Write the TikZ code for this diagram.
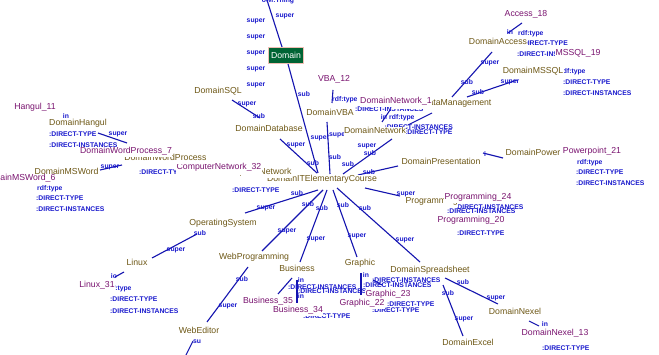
\documentclass[tikz,border=0pt]{standalone}
\usepackage{fontspec}
\setmainfont{Liberation Sans}
\definecolor{olive}{RGB}{110,88,22}
\definecolor{purp}{RGB}{122,20,112}
\definecolor{labblue}{RGB}{25,25,205}
\definecolor{lineblue}{RGB}{20,20,175}
\definecolor{domgreen}{RGB}{0,100,52}
\definecolor{dompink}{RGB}{240,190,180}
\tikzset{
  cls/.style={text=olive, fill=white, inner xsep=0.4pt, inner ysep=0.4pt, text height=6.8pt, text depth=2.8pt, font=\fontsize{8.7}{9}\selectfont},
  inst/.style={cls, text=purp},
  lab/.style={text=labblue, inner sep=0pt, text height=5pt, text depth=0.6pt, font=\fontsize{6.8}{7}\selectfont\bfseries},
  edge/.style={draw=lineblue, line width=1.1pt},
  dombox/.style={fill=domgreen, draw=dompink, line width=0.8pt, text=white, minimum width=35pt, minimum height=16pt, inner sep=1pt, font=\fontsize{8.7}{9}\selectfont}
}
\begin{document}
\begin{tikzpicture}[x=1pt,y=-1pt]
\useasboundingbox (0,0) rectangle (659,355);
\clip (0,0) rectangle (659,355);
\fill[white] (0,0) rectangle (659,355);
% ---------- edge end points ----------
\coordinate (d1) at (282,47); \coordinate (d0) at (266,-3);
\coordinate (d2) at (288,64); \coordinate (c0) at (318,173);
\coordinate (s1) at (232,100); \coordinate (s2) at (260,118);
\coordinate (b1) at (280,139); \coordinate (c1) at (317,173);
\coordinate (v1) at (327,122); \coordinate (c2) at (330,174);
\coordinate (n1) at (392,139); \coordinate (c3) at (343,174);
\coordinate (c4) at (358,175); \coordinate (p1) at (398,166);
\coordinate (c5) at (365,188); \coordinate (g1) at (400,196);
\coordinate (c6) at (318,190); \coordinate (o1) at (245,213);
\coordinate (c7) at (323,190); \coordinate (w1) at (262,251);
\coordinate (c8) at (327,190); \coordinate (bu1) at (300,262);
\coordinate (c9) at (333,190); \coordinate (gr1) at (357,257);
\coordinate (c10) at (337,188); \coordinate (sp1) at (420,262);
\coordinate (o2) at (197,234); \coordinate (l1) at (152,258);
\coordinate (w2) at (248,267); \coordinate (we1) at (207,322);
\coordinate (we2) at (193,341); \coordinate (we3) at (185,357);
\coordinate (sp2) at (445,278); \coordinate (nx1) at (498,304);
\coordinate (sp3) at (443,285); \coordinate (ex1) at (463,336);
\coordinate (nx2) at (529,321); \coordinate (nx3) at (539,326);
\coordinate (ac1) at (492,52); \coordinate (dm1) at (452,97);
\coordinate (ms1) at (517,80); \coordinate (dm2) at (467,97);
\coordinate (ac2) at (508,33); \coordinate (ac3) at (522,23);
\coordinate (pr1) at (483,153); \coordinate (pw1) at (503,158);
\coordinate (h1) at (98,133); \coordinate (h2) at (127,143);
\coordinate (m1) at (100,170); \coordinate (m2) at (122,165);
\coordinate (li1) at (115,277); \coordinate (li2) at (124,272);
\coordinate (vb1) at (333,90); \coordinate (vb2) at (332,103);
\coordinate (ne1) at (382,122); \coordinate (ne2) at (390,110);
\coordinate (ne3) at (408,125); \coordinate (ne4) at (432,113);
\coordinate (bi1) at (278,294); \coordinate (bi2) at (292,278);
\coordinate (bi3) at (297,280); \coordinate (bi4) at (297,303);
\coordinate (gi1) at (361,273); \coordinate (gi2) at (361,295);
\coordinate (gi3) at (373,280); \coordinate (gi4) at (382,285);
% ---------- edges ----------
\draw[edge] (d1) -- (d0);
\draw[edge] (d2) -- (c0);
\draw[edge] (s1) -- (s2);
\draw[edge] (b1) -- (c1);
\draw[edge] (v1) -- (c2);
\draw[edge] (n1) -- (c3);
\draw[edge] (c4) -- (p1);
\draw[edge] (c5) -- (g1);
\draw[edge] (c6) -- (o1);
\draw[edge] (c7) -- (w1);
\draw[edge] (c8) -- (bu1);
\draw[edge] (c9) -- (gr1);
\draw[edge] (c10) -- (sp1);
\draw[edge] (o2) -- (l1);
\draw[edge] (w2) -- (we1);
\draw[edge] (we2) -- (we3);
\draw[edge] (sp2) -- (nx1);
\draw[edge] (sp3) -- (ex1);
\draw[edge] (nx2) -- (nx3);
\draw[edge] (ac1) -- (dm1);
\draw[edge] (ms1) -- (dm2);
\draw[edge] (ac2) -- (ac3);
\draw[edge] (pr1) -- (pw1);
\draw[edge] (h1) -- (h2);
\draw[edge] (m1) -- (m2);
\draw[edge] (li1) -- (li2);
\draw[edge] (vb1) -- (vb2);
\draw[edge] (ne1) -- (ne2);
\draw[edge] (ne3) -- (ne4);
\draw[edge] (bi1) -- (bi2);
\draw[edge] (bi3) -- (bi4);
\draw[edge] (gi1) -- (gi2);
\draw[edge] (gi3) -- (gi4);
% ---------- small blue labels ----------
\node[lab] (t0) at (278,0) {owl:Thing};
\node[lab] (su1) at (256,20) {super};
\node[lab] (su2) at (256,36) {super};
\node[lab] (su3) at (256,52) {super};
\node[lab] (su4) at (256,68) {super};
\node[lab] (su5) at (256,84) {super};
\node[lab] (su6) at (285,15) {super};
\node[lab] (sb1) at (304,94) {sub};
\node[lab] (su7) at (247,103) {super};
\node[lab] (sb2) at (259,116) {sub};
\node[lab] (su8) at (296,144) {super};
\node[lab] (sb3) at (313,163) {sub};
\node[lab] (su9) at (320,137) {super};
\node[lab,anchor=west] (su10) at (329,134) {super};
\node[lab] (sb4) at (335,157) {sub};
\node[lab] (su11) at (367,145) {super};
\node[lab] (sb5) at (370,153) {sub};
\node[lab] (sb6) at (348,164) {sub};
\node[lab] (sb7) at (369,172) {sub};
\node[lab] (su12) at (406,193) {super};
\node[lab] (sb8) at (297,193) {sub};
\node[lab] (su13) at (266,207) {super};
\node[lab] (sb9) at (308,204) {sub};
\node[lab] (su14) at (287,230) {super};
\node[lab] (sb10) at (322,208) {sub};
\node[lab] (su15) at (316,238) {super};
\node[lab] (sb11) at (343,205) {sub};
\node[lab] (su16) at (357,235) {super};
\node[lab] (sb12) at (365,208) {sub};
\node[lab] (su17) at (405,239) {super};
\node[lab] (sb13) at (200,233) {sub};
\node[lab] (su18) at (176,249) {super};
\node[lab] (sb14) at (242,279) {sub};
\node[lab] (su19) at (228,305) {super};
\node[lab] (su20) at (197,341) {su};
\node[lab] (sb15) at (463,282) {sub};
\node[lab] (su21) at (496,297) {super};
\node[lab] (sb16) at (448,293) {sub};
\node[lab] (su22) at (464,318) {super};
\node[lab] (io1) at (545,324) {in};
\node[lab,anchor=west] (dt1) at (542,348) {:DIRECT-TYPE};
\node[lab] (su23) at (490,62) {super};
\node[lab] (sb17) at (467,82) {sub};
\node[lab] (su24) at (510,81) {super};
\node[lab] (sb18) at (478,92) {sub};
\node[lab] (io2) at (510,32) {in};
\node[lab,anchor=west] (rt1) at (518,33) {rdf:type};
\node[lab,anchor=east] (dt2) at (568,43) {:DIRECT-TYPE};
\node[lab,anchor=west] (di1) at (517,54) {:DIRECT-INSTANCES};
\node[lab,anchor=west] (rt2) at (560,71) {rdf:type};
\node[lab,anchor=west] (dt3) at (563,82) {:DIRECT-TYPE};
\node[lab,anchor=west] (di2) at (563,93) {:DIRECT-INSTANCES};
\node[lab,anchor=west] (rt3) at (332,99) {rdf:type};
\node[lab,anchor=west] (di3) at (355,109) {:DIRECT-INSTANCES};
\node[lab] (io3) at (384,117) {in};
\node[lab,anchor=west] (rt4) at (389,117) {rdf:type};
\node[lab,anchor=east] (di4) at (453,127) {:DIRECT-INSTANCES};
\node[lab,anchor=west] (dt4) at (405,132) {:DIRECT-TYPE};
\node[lab] (io4) at (485,154) {i};
\node[lab,anchor=west] (rt5) at (577,162) {rdf:type};
\node[lab,anchor=west] (dt5) at (576,172) {:DIRECT-TYPE};
\node[lab,anchor=west] (di5) at (576,183) {:DIRECT-INSTANCES};
\node[lab,anchor=west] (di6) at (455,207) {:DIRECT-INSTANCES};
\node[lab,anchor=west] (di7) at (447,211) {:DIRECT-INSTANCES};
\node[lab,anchor=west] (dt6) at (457,233) {:DIRECT-TYPE};
\node[lab,anchor=west] (dt7) at (49,134) {:DIRECT-TYPE};
\node[lab] (su25) at (118,133) {super};
\node[lab,anchor=west] (di8) at (49,145) {:DIRECT-INSTANCES};
\node[lab] (io5) at (66,116) {in};
\node[lab] (su26) at (110,166) {super};
\node[lab,anchor=west] (dt8) at (139,172) {:DIRECT-TYPE};
\node[lab,anchor=west] (rt6) at (37,188) {rdf:type};
\node[lab,anchor=west] (dt9) at (36,198) {:DIRECT-TYPE};
\node[lab,anchor=west] (di9) at (36,209) {:DIRECT-INSTANCES};
\node[lab,anchor=west] (dt10) at (232,190) {:DIRECT-TYPE};
\node[lab] (io6) at (114,276) {io};
\node[lab,anchor=west] (rt7) at (106,288) {rdf:type};
\node[lab,anchor=west] (dt11) at (110,299) {:DIRECT-TYPE};
\node[lab,anchor=west] (di10) at (110,311) {:DIRECT-INSTANCES};
\node[lab] (io7) at (301,280) {in};
\node[lab,anchor=west] (di11) at (288,287) {:DIRECT-INSTANCES};
\node[lab,anchor=west] (di12) at (298,291) {:DIRECT-INSTANCES};
\node[lab] (io8) at (301,296) {in};
\node[lab,anchor=west] (dt12) at (303,316) {:DIRECT-TYPE};
\node[lab] (io9) at (366,275) {in};
\node[lab,anchor=west] (di13) at (372,280) {:DIRECT-INSTANCES};
\node[lab,anchor=west] (di14) at (363,285) {:DIRECT-INSTANCES};
\node[lab,anchor=west] (dt13) at (387,304) {:DIRECT-TYPE};
\node[lab,anchor=west] (dt14) at (372,310) {:DIRECT-TYPE};
% ---------- class and instance names ----------
\node[dombox] (dom) at (286,55) {Domain};
\node[cls] (acc) at (498,43) {DomainAccess};
\node[inst] (acc18) at (526,15) {Access\_18};
\node[cls] (mssql) at (533,72) {DomainMSSQL};
\node[inst] (mssql19) at (578,54) {MSSQL\_19};
\node[cls,anchor=east] (dm) at (492,104) {DomainDataManagement};
\node[inst] (net1) at (396,102) {DomainNetwork\_1};
\node[inst] (vba12) at (334,80) {VBA\_12};
\node[cls] (sql) at (218,92) {DomainSQL};
\node[cls] (vba) at (330,114) {DomainVBA};
\node[cls] (db) at (269,130) {DomainDatabase};
\node[cls] (net) at (375,132) {DomainNetwork};
\node[cls,anchor=east] (pres) at (481,163) {DomainPresentation};
\node[cls] (pow) at (533,154) {DomainPower};
\node[inst] (pp21) at (592,152) {Powerpoint\_21};
\node[cls] (course) at (322,180) {DomainITElementaryCourse};
\node[cls,anchor=east] (cn) at (292,173) {DomainComputerNetwork};
\node[inst,inner ysep=2pt] (cn32) at (219,168) {ComputerNetwork\_32};
\node[inst] (hang11) at (35,108) {Hangul\_11};
\node[cls] (hang) at (78,124) {DomainHangul};
\node[cls,anchor=east] (wp) at (207,159) {DomainWordProcess};
\node[inst] (wp7) at (126,152) {DomainWordProcess\_7};
\node[cls,anchor=east] (msw) at (99,173) {DomainMSWord};
\node[inst,anchor=east] (msw6) at (56,179) {DomainMSWord\_6};
\node[cls,anchor=west] (prog) at (405,202) {Programming};
\node[inst] (prog24) at (478,198) {Programming\_24};
\node[inst] (prog20) at (471,221) {Programming\_20};
\node[cls] (os) at (223,224) {OperatingSystem};
\node[cls] (linux) at (137,264) {Linux};
\node[inst] (linux31) at (97,286) {Linux\_31};
\node[cls] (webp) at (254,258) {WebProgramming};
\node[cls] (bus) at (297,270) {Business};
\node[inst] (bus35) at (268,302) {Business\_35};
\node[inst] (bus34) at (298,311) {Business\_34};
\node[cls] (gr) at (360,264) {Graphic};
\node[inst] (gr23) at (388,295) {Graphic\_23};
\node[inst] (gr22) at (362,304) {Graphic\_22};
\node[cls] (ss) at (430,271) {DomainSpreadsheet};
\node[cls] (webed) at (199,332) {WebEditor};
\node[cls] (nexel) at (515,313) {DomainNexel};
\node[inst] (nexel13) at (555,334) {DomainNexel\_13};
\node[cls] (excel) at (468,344) {DomainExcel};
\end{tikzpicture}
\end{document}
